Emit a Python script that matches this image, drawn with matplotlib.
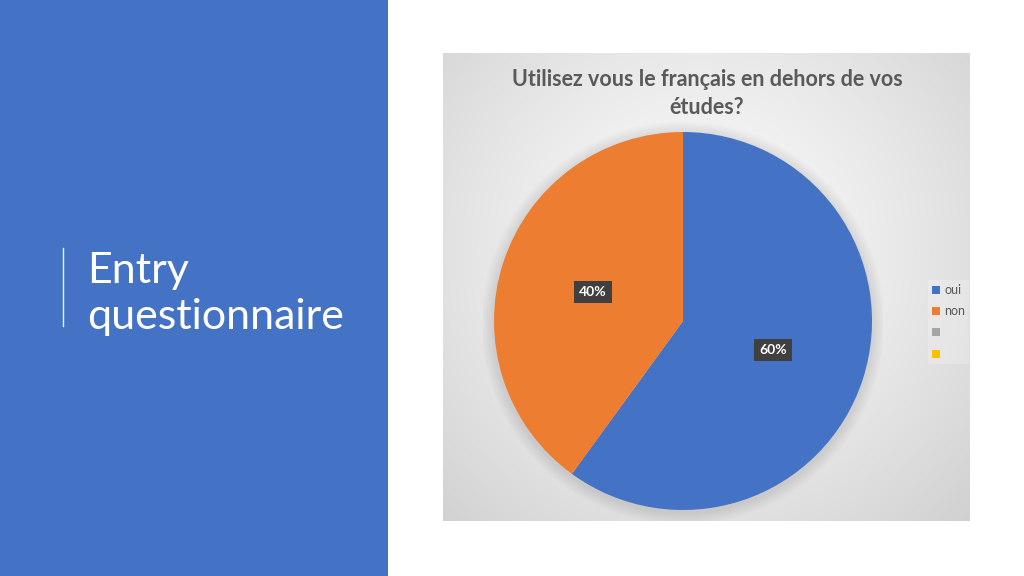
import numpy as np
import matplotlib
matplotlib.use("Agg")
import matplotlib.pyplot as plt
from matplotlib.patches import Rectangle

# ---- data ----
categories = ["oui", "non", "", ""]
values = [60, 40, 0, 0]
colors = ["#4472C4", "#ED7D31", "#A5A5A5", "#FFC000"]
title_lines = ["Utilisez vous le français en dehors de vos", "études?"]
slide_title = ["Entry", "questionnaire"]

W, H = 1024, 576
fig = plt.figure(figsize=(W / 100, H / 100), dpi=100)
fig.patch.set_facecolor("white")

def fx(x):
    return x / W

def fy(y):
    return 1 - y / H

# left blue panel
fig.patches.append(Rectangle((0, 0), fx(388), 1, transform=fig.transFigure,
                             facecolor="#4472C4", edgecolor="none", zorder=0))
# thin vertical line
fig.add_artist(plt.Line2D([fx(63), fx(63)], [fy(248), fy(326)], transform=fig.transFigure,
                          color="white", lw=1.0, alpha=0.9))
fig.text(fx(87), fy(283), slide_title[0], color="white", fontsize=31, family="Lato",
         fontweight="normal", va="baseline", ha="left")
fig.text(fx(87), fy(329), slide_title[1], color="white", fontsize=31, family="Lato",
         fontweight="normal", va="baseline", ha="left")

# chart area with radial gradient
bx0, by0, bx1, by1 = 443, 53, 970, 521
bg = fig.add_axes([fx(bx0), fy(by1), fx(bx1 - bx0), (by1 - by0) / H])
gx = np.linspace(bx0, bx1, 300)
gy = np.linspace(by0, by1, 300)
X, Y = np.meshgrid(gx, gy)
d = np.sqrt((X - 700) ** 2 + (Y - 250) ** 2) / 420
d = np.clip(d, 0, 1)
val = 0.985 - 0.19 * d ** 1.3
img = np.dstack([val, val, val])
bg.imshow(img, extent=[0, 1, 0, 1], aspect="auto", origin="upper")
bg.set_axis_off()

# title
for i, line in enumerate(title_lines):
    fig.text(fx(707), fy(79 + i * 29), line, color="#595959", fontsize=15.5,
             fontweight="bold", family="Lato", ha="center", va="center")

# pie
R = 189
cx, cy = 683, 321
ax = fig.add_axes([fx(cx - 200), fy(cy + 200), fx(400), 400 / H])
ax.set_zorder(2)
# soft shadow
for k in range(8):
    sh = plt.Circle((0, -2), R + 2 + k * 1.5, color="black", alpha=0.012, lw=0)
    ax.add_patch(sh)

def fmt(p):
    return f"{p:.0f}%" if p > 0 else ""

wedges, texts, autotexts = ax.pie(values, colors=colors, radius=R, startangle=90,
                                  counterclock=False, autopct=fmt, pctdistance=0.5,
                                  wedgeprops=dict(linewidth=0),
                                  textprops=dict(color="white", fontsize=10,
                                                 fontweight="bold", family="Lato"))
for t in autotexts:
    if t.get_text():
        t.set_bbox(dict(boxstyle="square,pad=0.35", facecolor="#404040", edgecolor="none"))
ax.set_xlim(-200, 200)
ax.set_ylim(-200, 200)
ax.set_aspect("equal")
ax.set_axis_off()

# legend
leg = fig.legend(wedges, categories, loc="upper left",
                 bbox_to_anchor=(fx(922), fy(274)), frameon=True,
                 handlelength=0.6, handleheight=0.6, handletextpad=0.4,
                 labelspacing=0.75, borderpad=0.3,
                 prop=dict(family="Lato", size=9))
leg.get_frame().set_facecolor("white")
leg.get_frame().set_alpha(0.2)
leg.get_frame().set_edgecolor("none")
leg.get_frame().set_boxstyle("square", pad=0)
for t in leg.get_texts():
    t.set_color("#595959")
leg.set_zorder(5)

fig.savefig("out.png", dpi=100)
